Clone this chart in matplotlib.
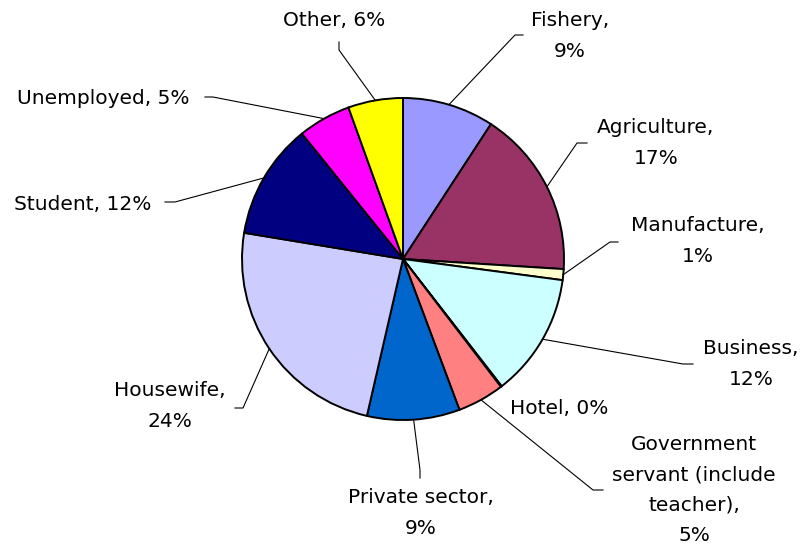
import numpy as np
import matplotlib
matplotlib.use("Agg")
import matplotlib.pyplot as plt

categories = ["Fishery", "Agriculture", "Manufacture", "Business", "Hotel",
              "Government\nservant (include\nteacher)", "Private sector",
              "Housewife", "Student", "Unemployed", "Other"]
values = [9.2, 16.8, 1.1, 12.4, 0.1, 4.7, 9.3, 24.0, 11.6, 5.3, 5.5]
colors = ["#9999FF", "#993366", "#FFFFCC", "#CCFFFF", "#660066", "#FF8080",
          "#0066CC", "#CCCCFF", "#000080", "#FF00FF", "#FFFF00"]

W, H = 809, 549
fig = plt.figure(figsize=(W / 100, H / 100), dpi=100)
ax = fig.add_axes([0, 0, 1, 1])

cx, cy, R = 403, H - 259, 161
wedges, _ = ax.pie(values, colors=colors, startangle=90, counterclock=False,
                   center=(cx, cy), radius=R, frame=True,
                   wedgeprops=dict(edgecolor="black", linewidth=1.4))
ax.set_xlim(0, W)
ax.set_ylim(0, H)
ax.set_aspect("equal")
ax.axis("off")

total = sum(values)
# label layout in pixels from top-left: text centre, leader elbow, leader end
layout = {
    "Fishery": ((570, 36), (515, 35), (523, 35)),
    "Agriculture": ((656, 143), (577, 143), (587, 143)),
    "Manufacture": ((698, 241), (610, 242), (618, 242)),
    "Business": ((751, 364), (683, 364), (693, 364)),
    "Hotel": ((559, 409), None, None),
    "Government\nservant (include\nteacher)": ((694, 490), (593, 490), (603, 490)),
    "Private sector": ((421, 513), (420, 470), (420, 478)),
    "Housewife": ((170, 406), (243, 408), (235, 408)),
    "Student": ((83, 204), (175, 202), (165, 202)),
    "Unemployed": ((103, 98), (213, 97), (205, 97)),
    "Other": ((334, 20), (339, 50), (339, 42)),
}
one_line = {"Hotel", "Student", "Unemployed", "Other"}

for w, cat, v in zip(wedges, categories, values):
    pct = int(round(100 * v / total))
    (tx, ty), elbow, end = layout[cat]
    sep = " " if cat in one_line else "\n"
    ax.text(tx, H - ty, f"{cat},{sep}{pct}%", ha="center", va="center",
            fontsize=14.5, family="DejaVu Sans", linespacing=1.75)
    if elbow is not None:
        mid = np.deg2rad((w.theta1 + w.theta2) / 2)
        px, py = cx + R * np.cos(mid), cy + R * np.sin(mid)
        ax.plot([px, elbow[0], end[0]], [py, H - elbow[1], H - end[1]],
                color="black", lw=0.8)

fig.savefig("out.png", dpi=100)
